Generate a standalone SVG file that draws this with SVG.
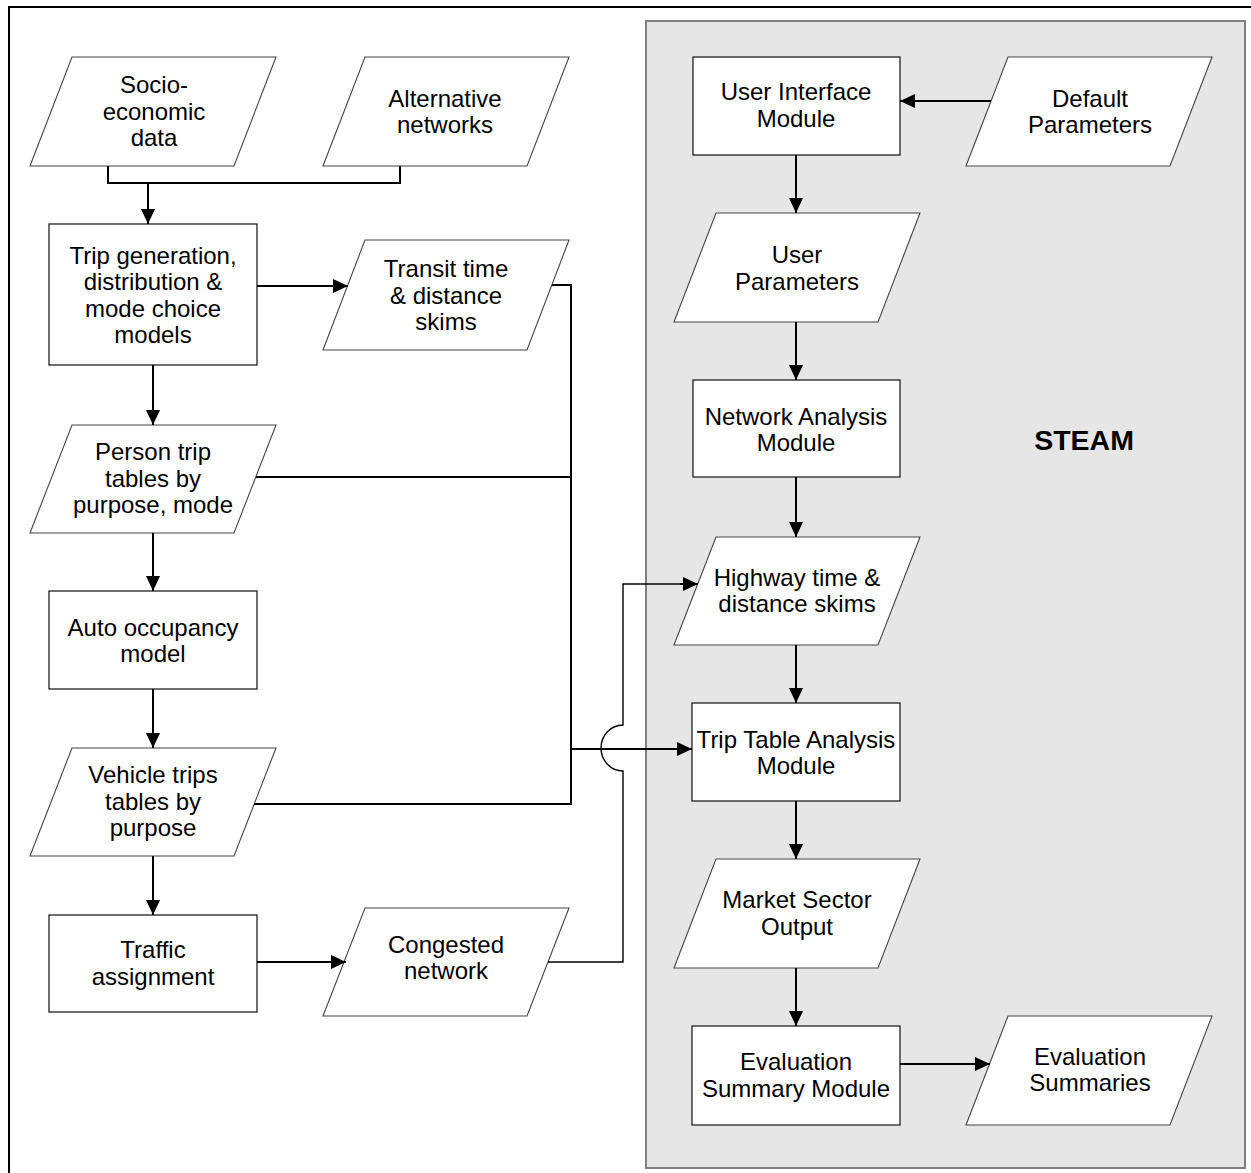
<svg xmlns="http://www.w3.org/2000/svg" width="1251" height="1173" viewBox="0 0 1251 1173">
<defs>
<marker id="ah" markerUnits="userSpaceOnUse" markerWidth="15" markerHeight="14" refX="15" refY="7" orient="auto">
<path d="M0,0 L15,7 L0,14 z" fill="#000"/>
</marker>
<style>
.box{fill:#fff;stroke:#222;stroke-width:1.3}
.par{fill:#fff;stroke:#444;stroke-width:1.1}
.t{font-family:"Liberation Sans",Arial,sans-serif;font-size:24px;fill:#000;text-anchor:middle}
.c{fill:none;stroke:#000;stroke-width:2}
.ca{fill:none;stroke:#000;stroke-width:2;marker-end:url(#ah)}
.thin{fill:none;stroke:#000;stroke-width:1.4}
</style>
</defs>
<rect width="1251" height="1173" fill="#fff"/>
<path d="M9,1173 V7 H1251" fill="none" stroke="#000" stroke-width="2"/>
<rect id="steam" x="646" y="21" width="599" height="1147" fill="#e6e6e6" stroke="#808080" stroke-width="2"/>
<text class="t" x="1084" y="450" style="font-weight:bold;font-size:28.5px">STEAM</text>

<g id="socio"><polygon class="par" points="72,57 276,57 234,166 30,166"/>
<text class="t" x="154" y="93">Socio-</text><text class="t" x="154" y="120">economic</text><text class="t" x="154" y="146">data</text></g>
<g id="altnet"><polygon class="par" points="365,57 569,57 527,166 323,166"/>
<text class="t" x="445" y="107">Alternative</text><text class="t" x="445" y="133">networks</text></g>
<g id="tripgen"><rect class="box" x="49" y="224" width="208" height="141"/>
<text class="t" x="153" y="264">Trip generation,</text><text class="t" x="153" y="290">distribution &amp;</text><text class="t" x="153" y="317">mode choice</text><text class="t" x="153" y="343">models</text></g>
<g id="transit"><polygon class="par" points="365,240 569,240 527,350 323,350"/>
<text class="t" x="446" y="277">Transit time</text><text class="t" x="446" y="304">&amp; distance</text><text class="t" x="446" y="330">skims</text></g>
<g id="person"><polygon class="par" points="72,425 276,425 234,533 30,533"/>
<text class="t" x="153" y="460">Person trip</text><text class="t" x="153" y="487">tables by</text><text class="t" x="153" y="513">purpose, mode</text></g>
<g id="auto"><rect class="box" x="49" y="591" width="208" height="98"/>
<text class="t" x="153" y="636">Auto occupancy</text><text class="t" x="153" y="662">model</text></g>
<g id="vehicle"><polygon class="par" points="72,748 276,748 234,856 30,856"/>
<text class="t" x="153" y="783">Vehicle trips</text><text class="t" x="153" y="810">tables by</text><text class="t" x="153" y="836">purpose</text></g>
<g id="traffic"><rect class="box" x="49" y="915" width="208" height="97"/>
<text class="t" x="153" y="958">Traffic</text><text class="t" x="153" y="985">assignment</text></g>
<g id="congested"><polygon class="par" points="365,908 569,908 527,1016 323,1016"/>
<text class="t" x="446" y="953">Congested</text><text class="t" x="446" y="979">network</text></g>

<g id="ui"><rect class="box" x="693" y="57" width="207" height="98"/>
<text class="t" x="796" y="100">User Interface</text><text class="t" x="796" y="127">Module</text></g>
<g id="defaults"><polygon class="par" points="1008,57 1212,57 1170,166 966,166"/>
<text class="t" x="1090" y="107">Default</text><text class="t" x="1090" y="133">Parameters</text></g>
<g id="userparams"><polygon class="par" points="716,213 920,213 878,322 674,322"/>
<text class="t" x="797" y="263">User</text><text class="t" x="797" y="290">Parameters</text></g>
<g id="network"><rect class="box" x="693" y="380" width="207" height="97"/>
<text class="t" x="796" y="425">Network Analysis</text><text class="t" x="796" y="451">Module</text></g>
<g id="highway"><polygon class="par" points="716,537 920,537 878,645 674,645"/>
<text class="t" x="797" y="586">Highway time &amp;</text><text class="t" x="797" y="612">distance skims</text></g>
<g id="triptable"><rect class="box" x="692" y="703" width="208" height="98"/>
<text class="t" x="796" y="748">Trip Table Analysis</text><text class="t" x="796" y="774">Module</text></g>
<g id="market"><polygon class="par" points="716,859 920,859 878,968 674,968"/>
<text class="t" x="797" y="908">Market Sector</text><text class="t" x="797" y="935">Output</text></g>
<g id="evalmod"><rect class="box" x="692" y="1026" width="208" height="99"/>
<text class="t" x="796" y="1070">Evaluation</text><text class="t" x="796" y="1097">Summary Module</text></g>
<g id="evalsum"><polygon class="par" points="1008,1016 1212,1016 1170,1125 966,1125"/>
<text class="t" x="1090" y="1065">Evaluation</text><text class="t" x="1090" y="1091">Summaries</text></g>

<g id="connectors">
<path class="c" d="M108,166 V183 H400 V166"/>
<path class="ca" d="M148,183 V224"/>
<path class="ca" d="M257,286 H348"/>
<path class="ca" d="M153,365 V425"/>
<path class="ca" d="M153,533 V591"/>
<path class="ca" d="M153,689 V748"/>
<path class="ca" d="M153,856 V915"/>
<path class="ca" d="M257,962 H346"/>
<path class="c" d="M552,285 H571 V804 H254"/>
<path class="c" d="M256,477 H571"/>
<path class="ca" d="M571,749 H692"/>
<path class="thin" d="M548,962 H623 V771 A22,23 0 0 1 623,725 V584 H683"/>
<path class="ca" d="M680,584 H698"/>
<path class="ca" d="M991,101 H900"/>
<path class="ca" d="M796,155 V213"/>
<path class="ca" d="M796,322 V380"/>
<path class="ca" d="M796,477 V537"/>
<path class="ca" d="M796,645 V703"/>
<path class="ca" d="M796,801 V859"/>
<path class="ca" d="M796,968 V1026"/>
<path class="ca" d="M900,1064 H990"/>
</g>
</svg>
